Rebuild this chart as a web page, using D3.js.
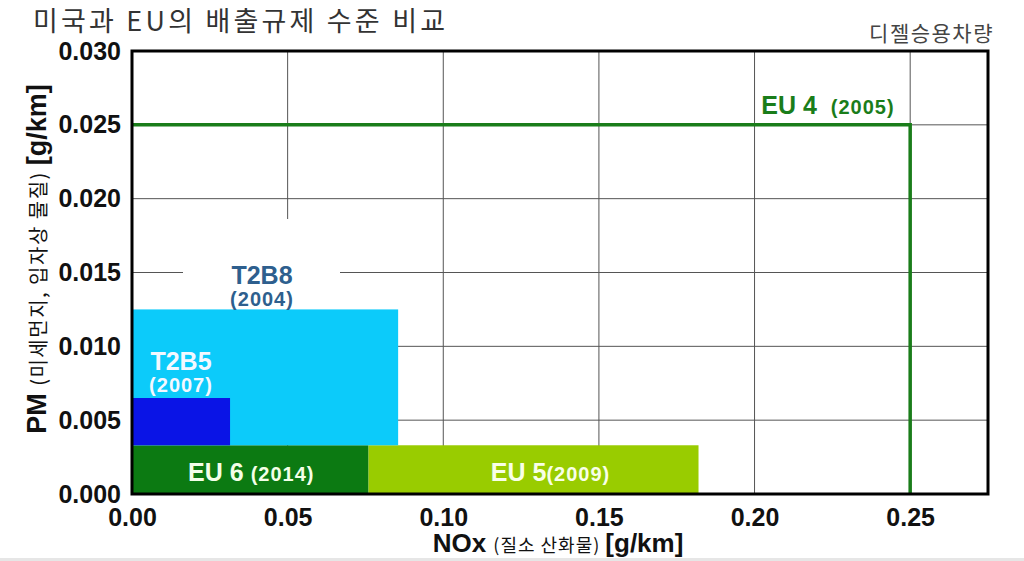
<!DOCTYPE html>
<html><head><meta charset="utf-8">
<script src="https://cdn.jsdelivr.net/npm/d3@7"></script>
<style>
html,body{margin:0;padding:0;background:#fff;}
svg{display:block;}
</style></head>
<body>
<svg id="chart" width="1024" height="561"></svg>
<script>
// ---- data ----
const xTicks = [0, 0.05, 0.10, 0.15, 0.20, 0.25];
const yTicks = [0, 0.005, 0.010, 0.015, 0.020, 0.025, 0.030];
const regNames = ["EU 6", "EU 5", "T2B8", "T2B5"];
const regYears = ["(2014)", "(2009)", "(2004)", "(2007)"];
const noxFrom = [0, 0.076, 0, 0];
const noxTo = [0.076, 0.182, 0.0855, 0.0315];
const pmFrom = [0, 0, 0.0033, 0.0033];
const pmTo = [0.0033, 0.0033, 0.0125, 0.0065];
const eu4Name = "EU 4", eu4Year = "(2005)";
const eu4Nox = 0.25, eu4Pm = 0.025;

const titleText = "미국과 EU의 배출규제 수준 비교";
const subtitleText = "디젤승용차량";

// ---- layout ----
const svg = d3.select("#chart");
const x = d3.scaleLinear().domain([0, 0.275]).range([132, 988]);
const y = d3.scaleLinear().domain([0, 0.030]).range([494, 51]);
const colors = ["#0c7a12", "#99cc00", "#0ccbfa", "#0a14e6"];
const font = "'Liberation Sans', Arial, sans-serif";
const kfont = "'Noto Sans CJK KR', sans-serif";

// grid
const grid = svg.append("g");
grid.selectAll("line.v").data(xTicks.slice(1)).join("line")
  .attr("x1", d => x(d)).attr("x2", d => x(d))
  .attr("y1", y(0.03)).attr("y2", y(0))
  .attr("stroke", "#555").attr("stroke-width", 1);
grid.selectAll("line.h").data(yTicks.slice(1, -1)).join("line")
  .attr("x1", x(0)).attr("x2", x(0.275))
  .attr("y1", d => y(d)).attr("y2", d => y(d))
  .attr("stroke", "#555").attr("stroke-width", 1);

// white label box behind T2B8 label
svg.append("rect").attr("x", 183).attr("y", 219).attr("width", 157).attr("height", y(pmTo[2]) - 219)
  .attr("fill", "#fff");

// regulation rectangles
const regs = regNames.map((n, i) => ({n, yr: regYears[i], x0: noxFrom[i], x1: noxTo[i], y0: pmFrom[i], y1: pmTo[i], c: colors[i]}));
svg.append("g").selectAll("rect").data(regs).join("rect")
  .attr("x", d => x(d.x0)).attr("width", d => x(d.x1) - x(d.x0))
  .attr("y", d => y(d.y1)).attr("height", d => y(d.y0) - y(d.y1))
  .attr("fill", d => d.c);

// EU4 line
svg.append("path")
  .attr("d", d3.line()([[x(0), y(eu4Pm)], [x(eu4Nox), y(eu4Pm)], [x(eu4Nox), y(0)]]))
  .attr("fill", "none").attr("stroke", "#1a7d1a").attr("stroke-width", 3.5);

// plot border
svg.append("rect").attr("x", x(0)).attr("y", y(0.03)).attr("width", x(0.275) - x(0)).attr("height", y(0) - y(0.03))
  .attr("fill", "none").attr("stroke", "#000").attr("stroke-width", 3);

// axes
const xAxis = svg.append("g").attr("transform", `translate(0,${y(0)})`)
  .call(d3.axisBottom(x).tickValues(xTicks).tickFormat(d3.format(".2f")).tickSize(0).tickPadding(14));
xAxis.select(".domain").remove();
xAxis.selectAll("text").attr("font-family", font).attr("font-weight", "bold").attr("font-size", 25).attr("fill", "#111");

const yAxis = svg.append("g").attr("transform", `translate(${x(0)},0)`)
  .call(d3.axisLeft(y).tickValues(yTicks).tickFormat(d3.format(".3f")).tickSize(0).tickPadding(11));
yAxis.select(".domain").remove();
yAxis.selectAll("text").attr("font-family", font).attr("font-weight", "bold").attr("font-size", 25).attr("fill", "#111");

// axis titles
const xt = svg.append("text").attr("x", 558).attr("y", 552).attr("text-anchor", "middle").attr("fill", "#111");
xt.append("tspan").attr("font-family", font).attr("font-weight", "bold").attr("font-size", 26).text("NOx ");
xt.append("tspan").attr("font-family", kfont).attr("font-size", 18).attr("letter-spacing", 1).text("(질소 산화물) ");
xt.append("tspan").attr("font-family", font).attr("font-weight", "bold").attr("font-size", 26).text("[g/km]");

const yt = svg.append("text").attr("transform", "translate(46,259) rotate(-90)").attr("text-anchor", "middle").attr("fill", "#111");
yt.append("tspan").attr("font-family", font).attr("font-weight", "bold").attr("font-size", 27).text("PM ");
yt.append("tspan").attr("font-family", kfont).attr("font-size", 20).attr("letter-spacing", 1.5).text("(미세먼지, 입자상 물질) ");
yt.append("tspan").attr("font-family", font).attr("font-weight", "bold").attr("font-size", 27).text("[g/km]");

// title and subtitle
svg.append("text").attr("x", 33).attr("y", 31).attr("font-family", kfont).attr("font-size", 27)
  .attr("letter-spacing", 3.2).attr("fill", "#333").text(titleText);
svg.append("text").attr("x", 994).attr("y", 41).attr("text-anchor", "end").attr("font-family", kfont).attr("font-size", 21)
  .attr("letter-spacing", 1.5).attr("fill", "#444").text(subtitleText);

// region labels
function twoPart(cx, base, name, year, color, sep) {
  const t = svg.append("text").attr("x", cx).attr("y", base).attr("text-anchor", "middle")
    .attr("font-family", font).attr("font-weight", "bold").attr("fill", color);
  t.append("tspan").attr("font-size", 25).text(name + sep);
  t.append("tspan").attr("font-size", 20).attr("letter-spacing", 1).text(year);
}
function stacked(cx, base1, base2, name, year, color) {
  svg.append("text").attr("x", cx).attr("y", base1).attr("text-anchor", "middle")
    .attr("font-family", font).attr("font-weight", "bold").attr("font-size", 25).attr("fill", color).text(name);
  svg.append("text").attr("x", cx).attr("y", base2).attr("text-anchor", "middle")
    .attr("font-family", font).attr("font-weight", "bold").attr("font-size", 20).attr("letter-spacing", 1).attr("fill", color).text(year);
}
twoPart((x(regs[0].x0) + x(regs[0].x1)) / 2 + 1, 481, regs[0].n, regs[0].yr, "#f4ffe8", " ");
twoPart((x(regs[1].x0) + x(regs[1].x1)) / 2 + 17, 481, regs[1].n, regs[1].yr, "#f8ffe8", "");
stacked(262, 284, 306, regs[2].n, regs[2].yr, "#2e5f8e");
stacked(181, 370, 392, regs[3].n, regs[3].yr, "#f4f8ff");
twoPart(828, 114, eu4Name, eu4Year, "#1a7d1a", "\u00a0\u00a0");

// bottom gray strip
svg.append("rect").attr("x", 0).attr("y", 558).attr("width", 1024).attr("height", 3).attr("fill", "#e6e6e6");
</script>
</body></html>
